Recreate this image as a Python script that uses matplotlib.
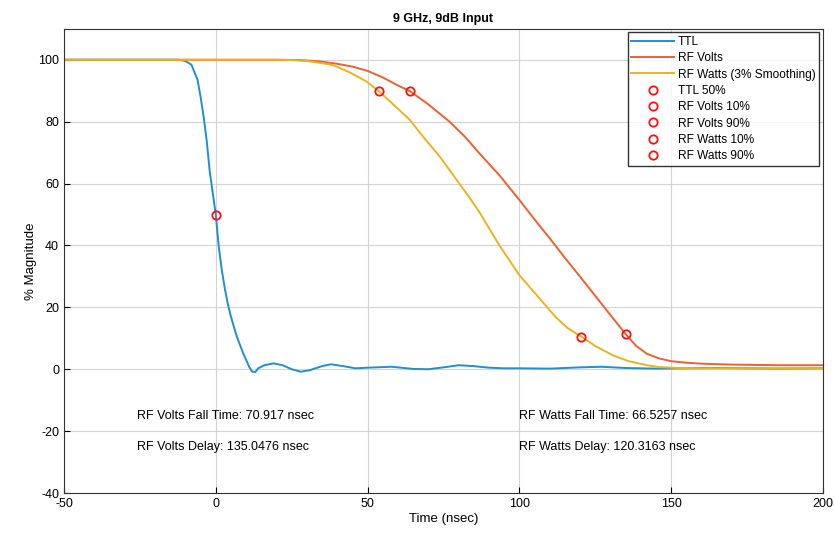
import matplotlib
matplotlib.use("Agg")
import matplotlib.pyplot as plt
import numpy as np

plt.rcParams['font.family'] = ['Liberation Sans', 'DejaVu Sans']
plt.rcParams['axes.unicode_minus'] = False

# TTL trace (time nsec, % magnitude)
ttl_t = [-50, -12, -10, -8, -6, -5, -4, -3, -2, -1, 0, 1, 2, 3, 4, 5, 6, 7, 8, 9,
         10, 11, 12, 13, 14, 16, 19, 22, 25, 28, 31, 35, 38, 42, 46, 50, 58, 65,
         70, 75, 80, 85, 90, 95, 100, 110, 120, 127, 135, 145, 155, 165, 175, 185, 200]
ttl_v = [100, 100, 99.6, 98.4, 93.5, 88, 81.6, 74, 64, 57, 50, 39.5, 32, 26, 21, 17,
         13.6, 10.4, 7.8, 5.2, 3, 0.8, -0.8, -0.9, 0.3, 1.3, 1.9, 1.3, 0, -0.8, -0.3,
         1, 1.6, 1, 0.3, 0.5, 0.8, 0.1, 0, 0.6, 1.3, 1, 0.5, 0.3, 0.3, 0.2, 0.6, 0.8,
         0.4, 0.2, 0.3, 0.4, 0.3, 0.2, 0.3]

# RF Volts trace
volts_t = [-50, 20, 28, 34, 40, 45, 50, 55, 60, 64.1, 70, 77, 82, 87, 93.5, 100, 105,
           110, 115, 120, 125, 130, 135.05, 138.5, 142, 146, 150, 155, 160, 170, 185, 200]
volts_v = [100, 100, 99.9, 99.5, 98.7, 97.8, 96.4, 94.3, 91.7, 89.8, 85.6, 80, 75.2,
           69.6, 62.6, 54.7, 48.4, 42.3, 36, 29.9, 23.7, 17.5, 11.3, 7.5, 5, 3.5, 2.6,
           2.1, 1.8, 1.5, 1.3, 1.3]

# RF Watts trace (3% smoothing)
watts_t = [-50, 20, 25, 30, 35, 38.5, 44, 49.6, 53.8, 58, 63.9, 68, 73.8, 78, 83.7, 87,
           93.5, 100, 106.7, 112, 116, 120.5, 125, 130.8, 136, 142, 146, 152, 160, 200]
watts_v = [100, 100, 99.9, 99.6, 98.9, 98.3, 96, 93, 89.8, 86, 80.6, 75.5, 68.7, 63,
           55.3, 50.5, 39.9, 30.4, 22.8, 16.8, 13.2, 10.5, 7.5, 4.5, 2.6, 1.3, 0.7, 0.4,
           0.3, 0.3]

# marker points
marker_labels = ['TTL 50%', 'RF Volts 10%', 'RF Volts 90%', 'RF Watts 10%', 'RF Watts 90%']
marker_t = [0, 135.0476, 64.1306, 120.3163, 53.7906]
marker_v = [50, 11.3, 89.8, 10.5, 89.8]

volts_fall = 70.917
volts_delay = 135.0476
watts_fall = 66.5257
watts_delay = 120.3163

fig = plt.figure(figsize=(8.35, 5.36), dpi=100)
ax = fig.add_axes([0.0766, 0.0802, 0.909, 0.866])

ax.plot(ttl_t, ttl_v, color='#1f8fd2', lw=1.4, label='TTL')
ax.plot(volts_t, volts_v, color='#ee6030', lw=1.4, label='RF Volts')
ax.plot(watts_t, watts_v, color='#e8b420', lw=1.4, label='RF Watts (3% Smoothing)')
for t, v, lab in zip(marker_t, marker_v, marker_labels):
    ax.plot(t, v, 'o', ms=6, mfc='none', mec='#ff1010', mew=1.3, label=lab)

ax.text(-26, -15, 'RF Volts Fall Time: {} nsec'.format(volts_fall), fontsize=9, va='center')
ax.text(-26, -25, 'RF Volts Delay: {} nsec'.format(volts_delay), fontsize=9, va='center')
ax.text(100, -15, 'RF Watts Fall Time: {} nsec'.format(watts_fall), fontsize=9, va='center')
ax.text(100, -25, 'RF Watts Delay: {} nsec'.format(watts_delay), fontsize=9, va='center')

ax.set_xlim(-50, 200)
ax.set_ylim(-40, 110)
ax.set_xticks([-50, 0, 50, 100, 150, 200])
ax.set_yticks([-40, -20, 0, 20, 40, 60, 80, 100])
ax.grid(True, color='#d4d4d4', lw=0.8)
ax.tick_params(labelsize=9, direction='in', length=4)
for s in ax.spines.values():
    s.set_color('#333333')

ax.set_title('9 GHz, 9dB Input', fontsize=9, fontweight='bold', pad=5)
ax.set_xlabel('Time (nsec)', fontsize=9.5, labelpad=2)
ax.set_ylabel('% Magnitude', fontsize=9.5, labelpad=1)

leg = ax.legend(loc='upper right', fontsize=8.6, frameon=True, fancybox=False,
                edgecolor='black', handlelength=3.6, labelspacing=0.36,
                borderaxespad=0.3, handletextpad=0.3, borderpad=0.3)
leg.get_frame().set_linewidth(1.0)

fig.savefig('out.png', dpi=100)
